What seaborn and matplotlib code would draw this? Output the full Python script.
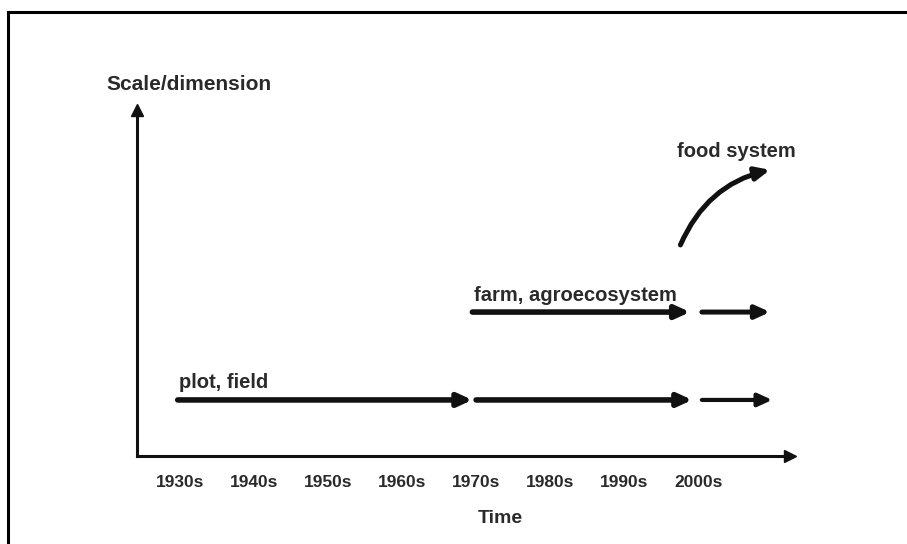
import matplotlib
matplotlib.use("Agg")
import matplotlib.pyplot as plt
import seaborn as sns
import numpy as np

sns.set_theme(style="white")
plt.rcParams['font.family'] = ['Liberation Sans', 'DejaVu Sans']

# ---- data ----
decade_labels = ["1930s", "1940s", "1950s", "1960s", "1970s", "1980s", "1990s", "2000s"]
decade_pos = [1930, 1940, 1950, 1960, 1970, 1980, 1990, 2000]

plot_level = 1.62
plot_segments_start = [1929.7, 1970.0, 2000.5]
plot_segments_end = [1969.5, 1999.2, 2010.0]
plot_widths = [4.0, 4.0, 3.0]

farm_level = 4.16
farm_segments_start = [1969.5, 2000.5]
farm_segments_end = [1998.9, 2009.7]
farm_widths = [4.0, 3.6]

food_start = (1997.6, 6.1)
food_end = (2009.7, 8.27)

x_min, x_max = 1924.2, 2012.4
y_min, y_max = 0.0, 10.0

fig = plt.figure(figsize=(9.07, 5.44), dpi=100)
fig.patch.set_facecolor("white")

# frame border (top and left)
fig.add_artist(plt.Line2D([8/907, 8/907], [0, 1 - 12/544], transform=fig.transFigure,
                          color="black", lw=2.2, solid_capstyle="projecting"))
fig.add_artist(plt.Line2D([8/907, 1.02], [1 - 12/544, 1 - 12/544], transform=fig.transFigure,
                          color="black", lw=2.2, solid_capstyle="projecting"))

left = 137/907
bottom = (544-456)/544
width = (790-137)/907
height = (456-110)/544
ax = fig.add_axes([left, bottom, width, height])
ax.set_facecolor("none")
ax.set_xlim(x_min, x_max)
ax.set_ylim(y_min, y_max)

for s in ["top", "right"]:
    ax.spines[s].set_visible(False)
for s in ["left", "bottom"]:
    ax.spines[s].set_color("#111111")
    ax.spines[s].set_linewidth(2.2)

# axis arrowheads
ax.plot([1], [0], marker=">", ms=9, color="#111111", transform=ax.transAxes, clip_on=False)
ax.plot([0], [1], marker="^", ms=9, color="#111111", transform=ax.transAxes, clip_on=False)

txt_color = "#2a2a2a"
ax.set_xticks(decade_pos)
ax.set_xticklabels(decade_labels, fontsize=12.5, fontweight="bold", color=txt_color)
ax.tick_params(axis="x", length=0, pad=14)
ax.set_yticks([])
ax.set_xlabel("Time", fontsize=14, fontweight="bold", color=txt_color)
ax.xaxis.set_label_coords(0.556, -0.182)
ax.xaxis.label.set_va("center")

fig.text(106/907, 1 - 85/544, "Scale/dimension", fontsize=15, fontweight="bold",
         color=txt_color, va="center", ha="left")

def harrow(x0, x1, y, w):
    ax.annotate("", xy=(x1, y), xytext=(x0, y),
                arrowprops=dict(arrowstyle="-|>,head_length=0.7,head_width=0.32",
                                color="#111111", lw=w, shrinkA=0, shrinkB=0))

for x0, x1, w in zip(plot_segments_start, plot_segments_end, plot_widths):
    harrow(x0, x1, plot_level, w)
for x0, x1, w in zip(farm_segments_start, farm_segments_end, farm_widths):
    harrow(x0, x1, farm_level, w)

ax.annotate("", xy=food_end, xytext=food_start,
            arrowprops=dict(arrowstyle="-|>,head_length=0.7,head_width=0.32",
                            color="#111111", lw=3.6, shrinkA=0, shrinkB=0,
                            connectionstyle="arc3,rad=-0.25"))

ax.text(1929.9, 2.11, "plot, field", fontsize=14.5, fontweight="bold",
        color=txt_color, ha="left", va="center")
ax.text(1969.7, 4.65, "farm, agroecosystem", fontsize=14.5, fontweight="bold",
        color=txt_color, ha="left", va="center")
ax.text(1997.2, 8.79, "food system", fontsize=14.5, fontweight="bold",
        color=txt_color, ha="left", va="center")

fig.savefig("out.png", dpi=100, facecolor="white")
